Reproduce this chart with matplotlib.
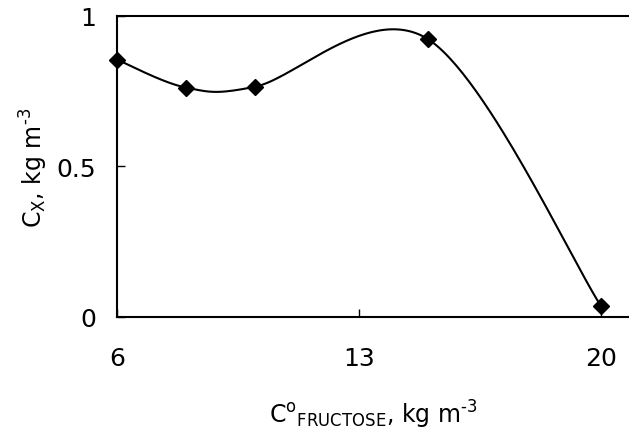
import numpy as np
import matplotlib
matplotlib.use("Agg")
import matplotlib.pyplot as plt

x_vals = [6, 8, 10, 15, 20]
y_vals = [0.855, 0.762, 0.765, 0.923, 0.038]
x_ticks = [6, 13, 20]
y_ticks = [0, 0.5, 1]
y_tick_labels = ["0", "0.5", "1"]

plt.rcParams['font.family'] = ['DejaVu Sans']

fig = plt.figure(figsize=(6.29, 4.35), dpi=100)
ax = fig.add_axes([0.186, 0.269, 0.814, 0.692])
xmin, xmax = 6, 20.82
ymin, ymax = 0, 1
ax.set_xlim(xmin, xmax)
ax.set_ylim(ymin, ymax)

# Excel-like smoothed curve (Catmull-Rom Bezier in display-proportional coordinates)
bbox = ax.get_position()
W = bbox.width * 6.29
H = bbox.height * 4.35
px = (np.array(x_vals) - xmin) / (xmax - xmin) * W
py = (np.array(y_vals) - ymin) / (ymax - ymin) * H
P = np.column_stack([px, py])
n = len(P)
curve = []
t = np.linspace(0, 1, 60)[:, None]
for i in range(n - 1):
    p0 = P[i - 1] if i > 0 else P[i]
    p1 = P[i]
    p2 = P[i + 1]
    p3 = P[i + 2] if i + 2 < n else P[i + 1]
    c1 = p1 + (p2 - p0) / 6
    c2 = p2 - (p3 - p1) / 6
    seg = ((1 - t) ** 3 * p1 + 3 * (1 - t) ** 2 * t * c1
           + 3 * (1 - t) * t ** 2 * c2 + t ** 3 * p2)
    curve.append(seg)
curve = np.vstack(curve)
cx = curve[:, 0] / W * (xmax - xmin) + xmin
cy = curve[:, 1] / H * (ymax - ymin) + ymin

ax.plot(cx, cy, color='black', lw=1.5, clip_on=False, zorder=3)
ax.plot(x_vals, y_vals, linestyle='none', marker='D', color='black', markersize=8, clip_on=False, zorder=4)

ax.set_xticks(x_ticks)
ax.set_xticklabels([str(v) for v in x_ticks])
ax.set_yticks(y_ticks)
ax.set_yticklabels(y_tick_labels)
ax.tick_params(direction='in', length=6, width=1, labelsize=18)
ax.tick_params(axis='x', pad=21)
ax.tick_params(axis='y', pad=15)
for s in ['left', 'bottom', 'top']:
    ax.spines[s].set_linewidth(1.5)
ax.spines['right'].set_visible(False)

ax.set_xlabel('C$^{\\mathregular{o}}$$_{\\mathregular{FRUCTOSE}}$, kg m$^{\\mathregular{\u20103}}$', fontsize=17, labelpad=20)
ax.set_ylabel('C$_{\\mathregular{X}}$, kg m$^{\\mathregular{\u20103}}$', fontsize=17, labelpad=5)

fig.savefig('out.png', dpi=100)
